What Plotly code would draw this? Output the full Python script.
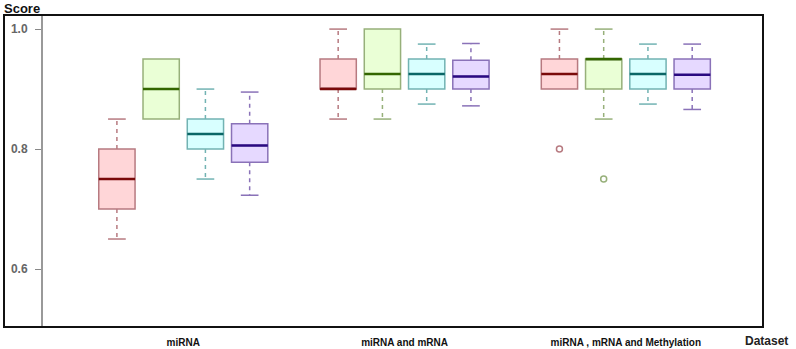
import plotly.graph_objects as go

groups = ["miRNA", "miRNA and mRNA", "miRNA , mRNA and Methylation"]
methods = ["M1", "M2", "M3", "M4"]

# per method: values for the 3 groups
lower = {"M1": [0.65, 0.85, 0.90], "M2": [0.85, 0.85, 0.85], "M3": [0.75, 0.875, 0.875], "M4": [0.723, 0.872, 0.866]}
q1 = {"M1": [0.70, 0.90, 0.90], "M2": [0.85, 0.90, 0.90], "M3": [0.80, 0.90, 0.90], "M4": [0.778, 0.90, 0.90]}
med = {"M1": [0.75, 0.90, 0.925], "M2": [0.90, 0.925, 0.95], "M3": [0.825, 0.925, 0.925], "M4": [0.806, 0.921, 0.924]}
q3 = {"M1": [0.80, 0.95, 0.95], "M2": [0.95, 1.00, 0.95], "M3": [0.85, 0.95, 0.95], "M4": [0.842, 0.948, 0.95]}
upper = {"M1": [0.85, 1.00, 1.00], "M2": [0.95, 1.00, 1.00], "M3": [0.90, 0.975, 0.975], "M4": [0.895, 0.976, 0.975]}
outliers = {"M1": [[], [], [0.80]], "M2": [[], [], [0.75]], "M3": [[], [], []], "M4": [[], [], []]}

fills = {"M1": "#ffd6d8", "M2": "#eaffd6", "M3": "#d8ffff", "M4": "#e6d9ff"}
edges = {"M1": "#b77a80", "M2": "#97b07a", "M3": "#72b3b3", "M4": "#8a72b8"}
medc = {"M1": "#7a0a0a", "M2": "#336600", "M3": "#0a6666", "M4": "#2a0a80"}

BW = 0.82
CAP = 0.2

fig = go.Figure()
for mi, m in enumerate(methods):
    xs = [5 * g + mi for g in range(3)]
    for g in range(3):
        x = xs[g]
        # whiskers (dashed)
        fig.add_trace(go.Scatter(x=[x, x, None, x, x], y=[q3[m][g], upper[m][g], None, q1[m][g], lower[m][g]],
                                 mode="lines", line=dict(color=edges[m], width=1.5, dash="4px,4px"),
                                 showlegend=False, hoverinfo="skip"))
        # caps
        cx, cy = [], []
        if upper[m][g] > q3[m][g]:
            cx += [x - CAP, x + CAP, None]; cy += [upper[m][g], upper[m][g], None]
        if lower[m][g] < q1[m][g]:
            cx += [x - CAP, x + CAP, None]; cy += [lower[m][g], lower[m][g], None]
        if cx:
            fig.add_trace(go.Scatter(x=cx, y=cy, mode="lines", line=dict(color=edges[m], width=1.5),
                                     showlegend=False, hoverinfo="skip"))
    fig.add_trace(go.Box(x=xs, q1=q1[m], median=med[m], q3=q3[m], lowerfence=q1[m], upperfence=q3[m],
                         width=BW, whiskerwidth=0, fillcolor=fills[m], line=dict(color=edges[m], width=1.5),
                         showlegend=False, boxpoints=False))
    # median lines
    mx, my = [], []
    for g in range(3):
        mx += [xs[g] - BW / 2, xs[g] + BW / 2, None]
        my += [med[m][g], med[m][g], None]
    fig.add_trace(go.Scatter(x=mx, y=my, mode="lines", line=dict(color=medc[m], width=2.5),
                             showlegend=False, hoverinfo="skip"))
    ox, oy = [], []
    for g in range(3):
        for v in outliers[m][g]:
            ox.append(xs[g]); oy.append(v)
    if ox:
        fig.add_trace(go.Scatter(x=ox, y=oy, mode="markers",
                                 marker=dict(symbol="circle-open", size=6, color=edges[m], line=dict(width=1.5)),
                                 showlegend=False))

fig.update_layout(
    width=796, height=349,
    margin=dict(l=43, r=33, t=15, b=22, autoexpand=False),
    plot_bgcolor="white", paper_bgcolor="white",
    font=dict(family="Liberation Sans, Arial, sans-serif"),
    xaxis=dict(range=[-1.67, 14.6], tickvals=[1.5, 6.5, 11.5], ticktext=groups, showgrid=False,
               zeroline=False, showline=False, ticks="", ticklabelstandoff=8, automargin=False,
               tickfont=dict(size=10, color="#111", weight="bold")),
    yaxis=dict(range=[0.5033, 1.0235], tickvals=[0.6, 0.8, 1.0], ticktext=["0.6", "0.8", "1.0"],
               showgrid=False, zeroline=False, showline=True, linecolor="#999", linewidth=2,
               ticks="outside", ticklen=6, tickcolor="#888", tickwidth=1, ticklabelstandoff=5,
               automargin=False, tickfont=dict(size=12, color="#666", weight="bold")),
    shapes=[dict(type="rect", xref="paper", yref="paper", x0=-39 / 720, x1=1, y0=0, y1=1,
                 line=dict(color="#111", width=2), fillcolor="rgba(0,0,0,0)", layer="above")],
    annotations=[
        dict(text="<b>Score</b>", xref="paper", yref="paper", x=-41 / 720, y=1 + 7 / 312,
             xanchor="left", yanchor="middle", showarrow=False, font=dict(size=13, color="#111")),
        dict(text="<b>Dataset</b>", xref="paper", yref="paper", x=(790 - 43) / 720, y=-14 / 312,
             xanchor="right", yanchor="middle", showarrow=False, font=dict(size=12, color="#222")),
    ],
)

fig.write_html("out.html", config={"displayModeBar": False},
               post_script="document.body.style.margin='0';document.body.style.overflow='hidden';")
